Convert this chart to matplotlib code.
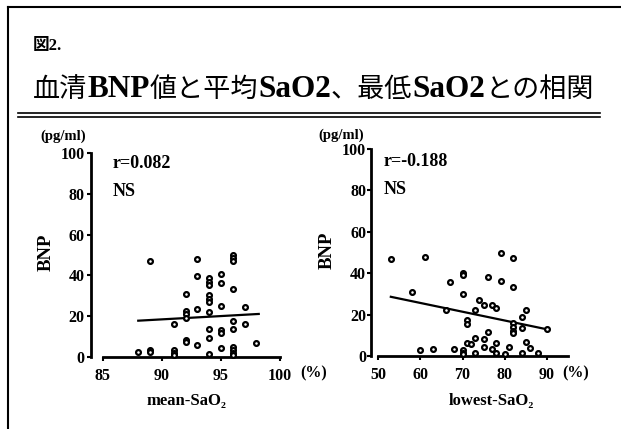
import numpy as np
import matplotlib
matplotlib.use('Agg')
import matplotlib.pyplot as plt
from matplotlib.lines import Line2D

W, H = 621, 429

# mean-SaO2 (%) vs BNP (pg/ml)
mean_sao2 = [88, 89, 89, 89, 91, 91, 91, 91, 92, 92, 92, 92, 92, 92,
             93, 93, 93, 93, 94, 94, 94, 94, 94, 94, 94, 94, 94, 94,
             95, 95, 95, 95, 95, 95, 96, 96, 96, 96, 96, 96, 96, 96, 96, 96,
             97, 97, 98]
mean_bnp = [2.5, 47, 3.5, 2.5, 16.3, 3.6, 2, 1, 31, 22.4, 21, 19, 8.5, 7.2,
            48, 39.5, 23.7, 6, 38.7, 37, 35.5, 30.5, 28.5, 27, 22, 13.7, 9.2, 1.5,
            40.7, 36.3, 25, 13.4, 11.8, 4.4, 50, 48.5, 47, 33.5, 17.5, 13.7, 5, 3.5, 2, 1,
            24.4, 16, 7]
mean_fit_x = [88, 98.2]
mean_fit_y = [17.8, 21.1]

# lowest-SaO2 (%) vs BNP (pg/ml)
low_sao2 = [53, 58, 60, 61, 63, 66, 67, 68, 70, 70, 70, 70, 70, 70,
            71, 71, 71, 72, 73, 73, 73, 74, 75, 75, 75, 76, 76, 77, 77,
            78, 78, 78, 79, 79, 80, 81, 82, 82, 82, 82, 82, 82,
            84, 84, 84, 85, 85, 86, 88, 90]
low_bnp = [47, 30.8, 2.9, 47.6, 3.5, 22, 35.6, 3.5, 40, 39, 29.8, 2.9, 1.5, 0.8,
           17.4, 15.5, 6.5, 6, 22, 8.5, 1.3, 27, 24.7, 8.2, 4.2, 38.4, 11.5, 24.4, 3.2,
           23.4, 6.5, 1.3, 49.7, 36, 0.8, 4.5, 47.3, 33.2, 15.8, 14, 12, 11,
           19, 13.4, 1.3, 22, 7, 3.7, 1.3, 12.9]
low_fit_x = [53, 90]
low_fit_y = [28.6, 12.9]

y_ticks = [0, 20, 40, 60, 80, 100]
mean_ticks = [85, 90, 95, 100]
low_ticks = [50, 60, 70, 80, 90]

SERIF = ['Liberation Serif', 'DejaVu Serif']
JP = ['Noto Sans CJK JP']


def px(x, y):
    # pixel position -> figure fraction
    return x / W, 1 - y / H


fig = plt.figure(figsize=(W / 100, H / 100), dpi=100)

# frame of the slide
fig.add_artist(Line2D([8 / W, 1], [1 - 7 / H, 1 - 7 / H], color='black', lw=1.5))
fig.add_artist(Line2D([8 / W, 8 / W], [0, 1 - 7 / H], color='black', lw=1.5))
# double rule under the title
for yy in (113, 117):
    fig.add_artist(Line2D([18 / W, 600 / W], [1 - yy / H] * 2, color='black', lw=1.2))

fig.text(*px(33, 46), '図2.', family=['Liberation Serif', 'Noto Sans CJK JP'],
         weight='bold', fontsize=12, va='center', ha='left')

# title made of mixed pieces: Japanese (normal) and latin (bold serif)
pieces = [('血清', 'jp'), ('BNP', 'en'), ('値と平均', 'jp'), ('SaO2', 'en'),
          ('、最低', 'jp'), ('SaO2', 'en'), ('との相関', 'jp')]
renderer = fig.canvas.get_renderer()
x0 = 33
for txt, kind in pieces:
    if kind == 'jp':
        t = fig.text(*px(x0, 97), txt, family=JP, fontsize=19.5, va='baseline', ha='left')
    else:
        t = fig.text(*px(x0, 97), txt, family=SERIF, weight='bold', fontsize=22.5,
                     va='baseline', ha='left')
    bb = t.get_window_extent(renderer)
    x0 += bb.width


def panel(rect, xs, ys, fx, fy, xlim, xbounds, xticks, ypad):
    ax = fig.add_axes(rect)
    ax.scatter(xs, ys, s=12, facecolor='white', edgecolor='black', linewidth=1.6,
               clip_on=False, zorder=3)
    ax.plot(fx, fy, color='black', lw=1.6, zorder=2)
    ax.set_xlim(*xlim)
    ax.set_ylim(0, 100)
    for s in ('top', 'right'):
        ax.spines[s].set_visible(False)
    ax.spines['left'].set_linewidth(2)
    ax.spines['bottom'].set_linewidth(2)
    ax.spines['bottom'].set_bounds(*xbounds)
    ax.spines['left'].set_bounds(0, 100)
    ax.set_xticks(xticks)
    ax.set_yticks(y_ticks)
    ax.tick_params(axis='x', length=3, width=1.5, pad=5)
    ax.tick_params(axis='y', length=3, width=1.5, pad=ypad)
    for lab in ax.get_xticklabels() + ax.get_yticklabels():
        lab.set_family(SERIF)
        lab.set_weight('bold')
        lab.set_fontsize(11.5)
    return ax


axL = panel([91 / W, 1 - 357 / H, 189 / W, 204 / H], mean_sao2, mean_bnp,
            mean_fit_x, mean_fit_y, (84, 100), (85, 100), mean_ticks, 1.5)
axR = panel([371 / W, 1 - 356 / H, 197 / W, 207 / H], low_sao2, low_bnp,
            low_fit_x, low_fit_y, (48.3, 95), (50, 95), low_ticks, 0.5)

txt_kw = dict(family=SERIF, weight='bold')
# left panel texts
fig.text(*px(63, 136), '(pg/ml)', fontsize=10.5, ha='center', va='center', **txt_kw)
fig.text(*px(46, 252), 'BNP', fontsize=13.5, rotation=90, ha='center', va='center', **txt_kw)
fig.text(*px(113, 163), 'r=0.082', fontsize=13, ha='left', va='center', **txt_kw)
fig.text(*px(113, 191), 'NS', fontsize=13, ha='left', va='center', **txt_kw)
fig.text(*px(300, 373), '(%)', fontsize=11.5, ha='left', va='center', **txt_kw)
fig.text(*px(186, 401), 'mean-SaO₂', fontsize=12, ha='center', va='center', **txt_kw)
# right panel texts
fig.text(*px(341, 135), '(pg/ml)', fontsize=10.5, ha='center', va='center', **txt_kw)
fig.text(*px(327, 250), 'BNP', fontsize=13.5, rotation=90, ha='center', va='center', **txt_kw)
fig.text(*px(384, 161), 'r=-0.188', fontsize=13, ha='left', va='center', **txt_kw)
fig.text(*px(384, 189), 'NS', fontsize=13, ha='left', va='center', **txt_kw)
fig.text(*px(562, 373), '(%)', fontsize=11.5, ha='left', va='center', **txt_kw)
fig.text(*px(491, 401), 'lowest-SaO₂', fontsize=12, ha='center', va='center', **txt_kw)

fig.savefig('out.png', dpi=100)
